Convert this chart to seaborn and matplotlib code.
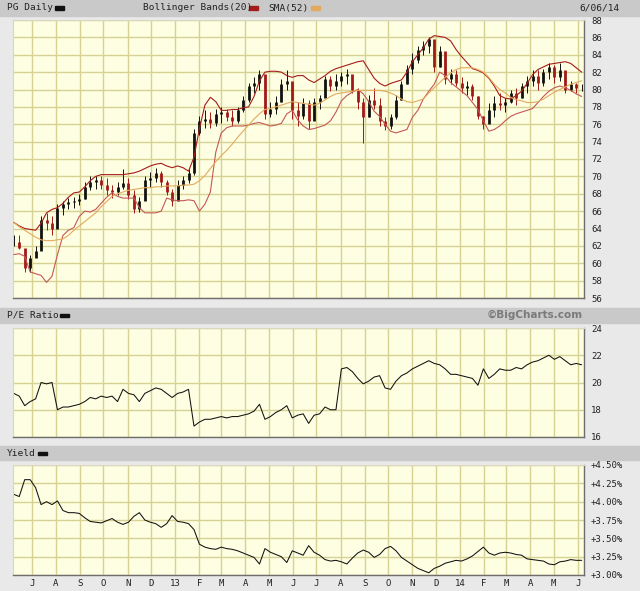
import numpy as np
import pandas as pd
import seaborn as sns
import matplotlib.pyplot as plt
import matplotlib.dates as mdates
from matplotlib.patches import Rectangle
from matplotlib.ticker import FuncFormatter, MultipleLocator

# Weekly samples (Fridays, 6/08/12 .. 6/06/14)
weeks = pd.date_range('2012-06-08', periods=105, freq='7D')

close = [62.4, 61.8, 59.4, 60.6, 61.4, 65.0, 64.6, 64.0, 66.4, 66.8,
         67.0, 67.2, 67.4, 68.8, 69.4, 69.6, 69.0, 68.4, 68.2, 68.8,
         69.2, 67.8, 66.2, 67.2, 69.6, 69.8, 70.4, 69.4, 68.2, 67.2,
         69.0, 69.6, 70.4, 75.0, 76.4, 76.6, 76.2, 77.2, 77.4, 76.8,
         76.4, 77.6, 78.8, 80.4, 80.8, 81.8, 77.2, 77.8, 78.6, 80.6,
         81.0, 77.6, 77.0, 78.4, 76.4, 78.6, 79.0, 81.2, 80.4, 81.0,
         81.6, 81.8, 80.0, 78.6, 76.8, 78.8, 78.2, 76.4, 75.8, 76.8,
         78.8, 80.6, 82.4, 83.4, 84.6, 85.0, 85.8, 82.6, 84.4, 81.2,
         81.8, 80.8, 80.2, 80.4, 79.2, 77.0, 76.0, 77.6, 78.4, 78.2,
         78.6, 79.6, 79.0, 80.4, 81.0, 81.6, 80.8, 82.0, 82.6, 81.4,
         82.2, 80.0, 80.6, 80.2, 80.2]
high = [63.3, 63.2, 61.2, 61.0, 62.0, 65.4, 65.8, 65.4, 66.8, 67.2,
        67.5, 67.6, 68.0, 69.3, 70.0, 70.1, 70.0, 69.8, 69.0, 69.4,
        70.8, 69.8, 68.4, 67.6, 70.0, 70.5, 71.0, 70.6, 69.6, 68.6,
        69.6, 70.0, 70.8, 75.4, 77.0, 77.6, 77.4, 77.8, 78.0, 77.8,
        77.6, 78.0, 79.2, 80.8, 81.4, 82.2, 80.0, 78.6, 79.2, 81.2,
        82.2, 80.4, 78.6, 79.0, 78.8, 79.0, 79.4, 81.6, 81.6, 81.8,
        82.0, 82.4, 81.2, 80.2, 79.0, 79.4, 80.2, 79.0, 76.8, 77.2,
        79.4, 81.0, 82.8, 84.2, 85.0, 85.6, 86.0, 84.8, 85.0, 83.0,
        82.4, 82.2, 81.4, 81.0, 80.6, 79.2, 77.0, 78.4, 79.2, 79.6,
        79.0, 80.0, 80.2, 80.8, 81.6, 82.2, 82.2, 82.4, 83.0, 82.8,
        83.0, 81.4, 81.0, 80.8, 80.6]
low = [62.0, 61.6, 59.0, 59.0, 60.8, 62.5, 63.8, 63.3, 64.6, 65.6,
       66.2, 66.4, 66.7, 67.4, 68.4, 68.6, 68.6, 67.8, 67.5, 67.8,
       68.6, 67.4, 65.8, 65.9, 67.4, 68.8, 69.3, 68.8, 67.8, 66.6,
       67.8, 68.6, 69.2, 70.2, 74.8, 75.6, 75.6, 75.8, 76.2, 76.4,
       75.8, 76.2, 77.4, 78.6, 79.6, 80.0, 76.6, 76.8, 77.2, 78.6,
       80.0, 76.6, 75.8, 76.6, 75.4, 77.2, 77.8, 79.4, 79.8, 80.0,
       80.4, 80.6, 79.6, 77.8, 73.8, 76.8, 77.8, 75.8, 75.3, 75.4,
       76.6, 78.8, 80.6, 81.8, 83.0, 84.0, 84.2, 82.0, 82.6, 80.6,
       80.6, 80.4, 79.6, 79.4, 78.8, 76.6, 75.4, 76.2, 76.8, 77.6,
       77.4, 78.4, 78.2, 79.0, 79.6, 80.4, 80.0, 80.4, 81.2, 80.8,
       81.0, 79.6, 79.8, 79.6, 79.8]
upper = [64.7, 64.3, 64.0, 63.9, 63.8, 64.6, 65.8, 66.2, 66.4, 66.9,
         67.6, 68.1, 68.2, 68.8, 69.5, 70.0, 70.2, 70.2, 70.2, 70.2,
         70.2, 70.3, 70.4, 70.6, 70.9, 71.2, 71.4, 71.5, 71.2, 71.0,
         71.2, 71.0, 70.6, 72.2, 75.5, 78.2, 79.1, 78.6, 77.6, 77.6,
         77.7, 77.7, 77.9, 78.0, 79.2, 81.0, 82.0, 82.1, 82.1, 82.0,
         81.6, 81.4, 81.6, 81.6, 81.1, 80.8, 81.2, 81.6, 82.1, 82.4,
         82.6, 82.8, 83.0, 83.2, 83.3, 82.3, 81.3, 80.7, 80.4, 80.7,
         80.9, 81.1, 82.0, 83.2, 84.0, 84.8, 85.8, 86.2, 86.1, 86.0,
         85.6, 84.6, 83.8, 83.1, 82.4, 82.2, 81.9, 81.3, 80.4, 79.3,
         79.0, 78.9, 79.3, 79.8, 80.7, 81.7, 82.3, 82.6, 82.9, 83.0,
         83.1, 83.2, 83.0, 82.5, 82.0]
lower = [61.0, 61.1, 60.8, 59.0, 58.8, 58.6, 57.8, 58.5, 61.0, 63.2,
         63.8, 64.1, 65.4, 66.0, 65.9, 66.2, 66.9, 67.6, 68.1, 67.7,
         67.5, 67.5, 67.5, 66.4, 65.8, 65.8, 65.8, 66.0, 67.5, 67.3,
         67.2, 67.2, 67.3, 67.2, 66.0, 66.8, 68.2, 72.8, 75.0, 75.6,
         75.8, 75.8, 75.8, 75.9, 76.1, 76.2, 76.0, 75.8, 75.9, 76.1,
         77.2, 77.6, 76.5, 75.8, 75.4, 75.5, 75.7, 75.9, 76.4, 77.4,
         78.7, 79.3, 79.7, 80.0, 79.5, 78.6, 77.5, 76.9, 76.0, 75.2,
         75.0, 75.2, 75.4, 76.8, 77.6, 78.9, 79.8, 80.6, 82.0, 81.6,
         80.8, 80.3, 79.8, 79.3, 78.5, 77.7, 76.4, 75.2, 75.4, 75.8,
         76.4, 76.9, 77.2, 77.4, 77.6, 77.8, 78.5, 79.2, 79.8, 80.2,
         80.4, 80.2, 79.9, 79.5, 79.2]
sma52 = [64.7, 64.2, 63.8, 63.4, 63.0, 62.7, 62.6, 62.6, 62.7, 62.8,
         63.2, 63.8, 64.3, 64.8, 65.3, 65.8, 66.5, 67.1, 67.7, 68.0,
         68.2, 68.4, 68.5, 68.6, 68.7, 68.7, 68.8, 68.8, 68.9, 68.9,
         68.9, 69.0, 69.0, 69.1, 69.5, 70.1, 70.9, 71.7, 72.4, 73.0,
         73.7, 74.5, 75.2, 75.9, 76.6, 77.2, 77.7, 77.8, 78.0, 78.2,
         78.4, 78.6, 78.5, 78.4, 78.3, 78.2, 78.4, 78.8, 79.2, 79.5,
         79.6, 79.7, 79.8, 79.9, 79.9, 79.9, 79.9, 79.9, 79.8, 79.6,
         79.3, 78.9, 78.6, 78.5, 78.7, 78.9, 79.6, 80.2, 80.8, 81.4,
         81.9, 82.3, 82.5, 82.5, 82.5, 82.3, 82.0, 81.4, 80.6, 80.0,
         79.6, 79.1, 78.8, 78.7, 78.5, 78.5, 78.6, 78.9, 79.3, 79.7,
         80.0, 80.3, 80.6, 80.8, 81.0]
pe_ratio = [19.2, 19.0, 18.3, 18.6, 18.8, 20.0, 19.9, 20.0, 18.0, 18.2,
            18.2, 18.3, 18.4, 18.6, 18.9, 18.8, 19.0, 18.9, 19.0, 18.6,
            19.5, 19.2, 19.1, 18.6, 19.2, 19.4, 19.6, 19.5, 19.2, 18.9,
            19.2, 19.3, 19.5, 16.8, 17.1, 17.3, 17.3, 17.4, 17.5, 17.4,
            17.5, 17.5, 17.6, 17.7, 17.9, 18.4, 17.3, 17.5, 17.8, 18.0,
            18.3, 17.4, 17.6, 17.7, 17.0, 17.6, 17.7, 18.2, 18.0, 18.0,
            21.0, 21.1, 20.8, 20.3, 19.9, 20.1, 20.4, 20.5, 19.6, 19.5,
            20.1, 20.5, 20.7, 21.0, 21.2, 21.4, 21.6, 21.4, 21.3, 21.0,
            20.6, 20.6, 20.5, 20.4, 20.3, 19.8, 21.0, 20.3, 20.6, 21.0,
            20.9, 20.9, 21.1, 21.0, 21.3, 21.5, 21.6, 21.8, 22.0, 21.7,
            21.9, 21.6, 21.3, 21.4, 21.3]
yield_pct = [4.10, 4.07, 4.30, 4.30, 4.19, 3.96, 4.00, 3.96, 4.01, 3.88,
             3.85, 3.85, 3.84, 3.78, 3.73, 3.72, 3.71, 3.74, 3.77, 3.72,
             3.69, 3.72, 3.80, 3.85, 3.75, 3.72, 3.70, 3.65, 3.70, 3.81,
             3.73, 3.72, 3.70, 3.62, 3.42, 3.38, 3.36, 3.35, 3.38, 3.36,
             3.35, 3.33, 3.30, 3.27, 3.24, 3.15, 3.36, 3.31, 3.28, 3.25,
             3.17, 3.33, 3.30, 3.27, 3.40, 3.31, 3.27, 3.21, 3.19, 3.20,
             3.18, 3.15, 3.23, 3.30, 3.34, 3.31, 3.24, 3.28, 3.36, 3.39,
             3.33, 3.24, 3.19, 3.14, 3.09, 3.06, 3.03, 3.09, 3.12, 3.16,
             3.18, 3.20, 3.19, 3.22, 3.26, 3.32, 3.38, 3.30, 3.27, 3.30,
             3.31, 3.30, 3.28, 3.27, 3.22, 3.21, 3.20, 3.19, 3.15, 3.14,
             3.18, 3.19, 3.21, 3.20, 3.20]

df = pd.DataFrame({'date': weeks, 'close': close, 'high': high, 'low': low,
                   'upper': upper, 'lower': lower, 'sma': sma52,
                   'pe': pe_ratio, 'yld': yield_pct})
df['open'] = df['close'].shift(1).fillna(df['close'])

BG = '#e9e9e9'
PLOT_BG = '#fefee2'
GRID = '#d6d293'
HEADER = '#c9c9c9'
BAND_UP = '#a51c1c'
BAND_LO = '#c45858'
SMA_C = '#e3aa5e'
mono = 'DejaVu Sans Mono'

sns.set_style('white')
plt.rcParams['font.family'] = mono

fig = plt.figure(figsize=(6.4, 5.91), dpi=100)
fig.patch.set_facecolor(BG)

W, H = 640, 591


def box(x0, y0, x1, y1):
    # pixel box (top-left origin) -> figure fraction rect
    return [x0 / W, 1 - y1 / H, (x1 - x0) / W, (y1 - y0) / H]


def header(y0, y1):
    fig.add_artist(Rectangle((0, 1 - y1 / H), 1, (y1 - y0) / H,
                             transform=fig.transFigure, color=HEADER, zorder=0))


def swatch(x, yc, color):
    fig.add_artist(Rectangle((x / W, 1 - (yc + 1.5) / H), 9 / W, 3 / H,
                             transform=fig.transFigure, color=color, zorder=2))


header(0, 16)
header(308, 323)
header(446, 460)

ax1 = fig.add_axes(box(13, 20, 584, 298))
ax2 = fig.add_axes(box(13, 328, 584, 437))
ax3 = fig.add_axes(box(13, 465, 584, 575))

months = mdates.MonthLocator()
xmin, xmax = pd.Timestamp('2012-06-07'), pd.Timestamp('2014-06-09')


def style(ax, lo, hi, step):
    ax.set_facecolor(PLOT_BG)
    ax.set_xlim(xmin, xmax)
    ax.set_ylim(lo, hi)
    ax.xaxis.set_major_locator(months)
    ax.yaxis.set_major_locator(MultipleLocator(step))
    ax.yaxis.tick_right()
    ax.grid(True, color=GRID, lw=1.0)
    ax.set_axisbelow(True)
    ax.tick_params(axis='both', length=0, labelsize=6.5, colors='#222222')
    ax.tick_params(axis='y', pad=5)
    ax.set_xlabel('')
    ax.set_ylabel('')
    for s in ['top', 'left']:
        ax.spines[s].set_color('#d8d8c0')
        ax.spines[s].set_linewidth(0.8)
    for s in ['bottom', 'right']:
        ax.spines[s].set_color('#6e6e6e')
        ax.spines[s].set_linewidth(1.0)


# price panel: weekly candles + Bollinger bands + SMA
up = df['close'] >= df['open']
colors = np.where(up, '#111111', '#a01818')
ax1.vlines(df['date'], df['low'], df['high'], colors=colors, lw=0.7, zorder=3)
ax1.vlines(df['date'], df[['open', 'close']].min(axis=1),
           df[['open', 'close']].max(axis=1), colors=colors, lw=2.0, zorder=3)
sns.lineplot(data=df, x='date', y='upper', ax=ax1, color=BAND_UP, lw=0.8, zorder=4)
sns.lineplot(data=df, x='date', y='lower', ax=ax1, color=BAND_LO, lw=0.8, zorder=4)
sns.lineplot(data=df, x='date', y='sma', ax=ax1, color=SMA_C, lw=0.8, zorder=4)
style(ax1, 56, 88, 2)
ax1.set_xticklabels([])

sns.lineplot(data=df, x='date', y='pe', ax=ax2, color='#111111', lw=0.75)
style(ax2, 16, 24, 2)
ax2.set_xticklabels([])

sns.lineplot(data=df, x='date', y='yld', ax=ax3, color='#111111', lw=0.75)
style(ax3, 3.0, 4.5, 0.25)
ax3.yaxis.set_major_formatter(FuncFormatter(lambda v, p: f'+{v:.2f}%'))
ax3.xaxis.set_major_formatter(FuncFormatter(
    lambda v, p: mdates.num2date(v).strftime('%y') if mdates.num2date(v).month == 1
    else mdates.num2date(v).strftime('%b')[0]))
ax3.tick_params(axis='x', pad=3)

# header texts
fs = 6.8
fig.text(7 / W, 1 - 8 / H, 'PG Daily', fontsize=fs, va='center', color='#222222')
swatch(55, 8, '#111111')
fig.text(143 / W, 1 - 8 / H, 'Bollinger Bands(20)', fontsize=fs, va='center', color='#222222')
swatch(249, 8, BAND_UP)
fig.text(268 / W, 1 - 8 / H, 'SMA(52)', fontsize=fs, va='center', color='#222222')
swatch(311, 8, SMA_C)
fig.text(620 / W, 1 - 8 / H, '6/06/14', fontsize=fs, va='center', ha='right', color='#222222')

fig.text(7 / W, 1 - 315 / H, 'P/E Ratio', fontsize=fs, va='center', color='#222222')
swatch(60, 315, '#111111')
fig.text(583 / W, 1 - 315 / H, '©BigCharts.com', fontsize=7.5, va='center', ha='right',
         color='#7a7a7a', fontweight='bold', family='DejaVu Sans')

fig.text(7 / W, 1 - 453 / H, 'Yield', fontsize=fs, va='center', color='#222222')
swatch(38, 453, '#111111')

fig.savefig('out.png', dpi=100, facecolor=fig.get_facecolor())
